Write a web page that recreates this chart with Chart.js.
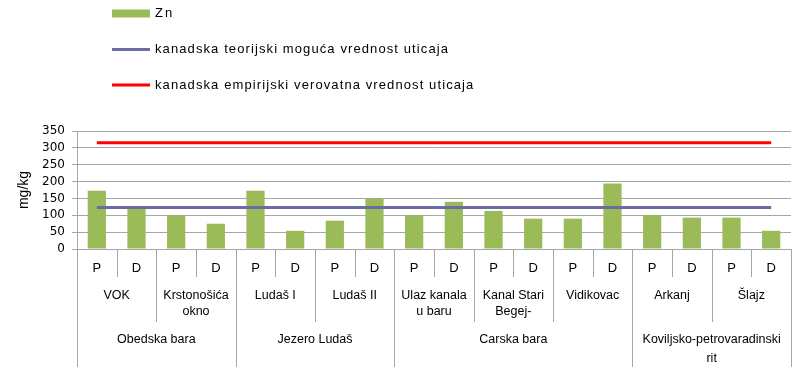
<!DOCTYPE html>
<html>
<head>
<meta charset="utf-8">
<script src="https://cdn.jsdelivr.net/npm/chart.js@4/dist/chart.umd.min.js"></script>
<style>
  html, body { margin: 0; padding: 0; background: #fff; }
  #wrap { width: 803px; height: 376px; position: relative; }
</style>
</head>
<body>
<div id="wrap"><canvas id="chart-zn" width="803" height="376"></canvas></div>
<script>
// uzorci: P i D za svaki lokalitet
const kategorije = ['P', 'D', 'P', 'D', 'P', 'D', 'P', 'D', 'P', 'D', 'P', 'D', 'P', 'D', 'P', 'D', 'P', 'D'];
const lokaliteti = [
    ['VOK'], ['Krstonošića', 'okno'], ['Ludaš I'], ['Ludaš II'],
    ['Ulaz kanala', 'u baru'], ['Kanal Stari', 'Begej-'], ['Vidikovac'],
    ['Arkanj'], ['Šlajz']
];
const grupe = [['Obedska bara'], ['Jezero Ludaš'], ['Carska bara'], ['Koviljsko-petrovaradinski', 'rit']];
const lokalitetaPoGrupi = [2, 2, 3, 2];

const zn = [173, 120, 100, 75, 173, 54, 84, 149, 100, 140, 113, 90, 90, 194, 100, 93, 93, 54];
const teorijski = [123, 123, 123, 123, 123, 123, 123, 123, 123, 123, 123, 123, 123, 123, 123, 123, 123, 123];
const empirijski = [315, 315, 315, 315, 315, 315, 315, 315, 315, 315, 315, 315, 315, 315, 315, 315, 315, 315];
const yTicks = [0, 50, 100, 150, 200, 250, 300, 350];

const FONT = '"Liberation Sans", Arial, sans-serif';
const GRID = '#a6a6a6';

// legenda, jedna stavka ispod druge
const legendaPlugin = {
    id: 'legenda',
    afterDraw(chart) {
        const ctx = chart.ctx;
        const redovi = [13.5, 49.5, 85];
        ctx.save();
        ctx.font = '13px ' + FONT;
        ctx.textBaseline = 'middle';
        ctx.fillStyle = '#000';
        chart.data.datasets.forEach((ds, i) => {
            const y = redovi[i];
            if (ds.type === 'line') {
                ctx.strokeStyle = ds.borderColor;
                ctx.lineWidth = ds.borderWidth;
                ctx.beginPath();
                ctx.moveTo(112, y);
                ctx.lineTo(150, y);
                ctx.stroke();
            } else {
                ctx.fillStyle = ds.backgroundColor;
                ctx.fillRect(112, y - 4, 38, 8);
            }
            ctx.fillStyle = '#000';
            ctx.letterSpacing = i === 0 ? '2px' : '1.1px';
            ctx.fillText(ds.label, 155, y);
        });
        ctx.restore();
    }
};

// x osa sa tri nivoa: uzorak, lokalitet, grupa
const osaPlugin = {
    id: 'visestrukaOsa',
    afterDraw(chart) {
        const ctx = chart.ctx;
        const x = chart.scales.x;
        const y0 = chart.chartArea.bottom;
        const korak = x.getPixelForValue(1) - x.getPixelForValue(0);
        const ivica = i => x.getPixelForValue(i) - korak / 2;

        ctx.save();
        ctx.strokeStyle = GRID;
        ctx.lineWidth = 1;
        const linija = (px, dno) => {
            const xx = Math.round(px) + 0.5;
            ctx.beginPath();
            ctx.moveTo(xx, y0);
            ctx.lineTo(xx, dno);
            ctx.stroke();
        };

        ctx.fillStyle = '#000';
        ctx.textAlign = 'center';
        ctx.textBaseline = 'middle';
        ctx.font = '13px ' + FONT;

        // prvi nivo
        kategorije.forEach((k, i) => {
            ctx.fillText(k, x.getPixelForValue(i), y0 + 19);
            if (i % 2 === 1) linija(ivica(i), y0 + 28);
        });

        // drugi nivo
        ctx.font = '12.5px ' + FONT;
        lokaliteti.forEach((lok, j) => {
            const cx = (ivica(2 * j) + ivica(2 * j + 2)) / 2;
            lok.forEach((t, r) => ctx.fillText(t, cx, y0 + 47 + r * 16));
            linija(ivica(2 * j), y0 + 73);
        });

        // treci nivo
        let start = 0;
        grupe.forEach((g, k) => {
            const kraj = start + lokalitetaPoGrupi[k] * 2;
            const cx = (ivica(start) + ivica(kraj)) / 2;
            g.forEach((t, r) => ctx.fillText(t, cx, y0 + 91 + r * 19));
            linija(ivica(start), y0 + 118);
            start = kraj;
        });
        linija(ivica(kategorije.length), y0 + 118);
        ctx.restore();
    }
};

new Chart(document.getElementById('chart-zn').getContext('2d'), {
    type: 'bar',
    data: {
        labels: kategorije,
        datasets: [
            {
                label: 'Zn',
                data: zn,
                backgroundColor: '#9bbb59',
                barPercentage: 0.46,
                categoryPercentage: 1,
                order: 3
            },
            {
                type: 'line',
                label: 'kanadska teorijski moguća vrednost uticaja',
                data: teorijski,
                borderColor: '#6b6ba6',
                borderWidth: 3,
                pointRadius: 0,
                order: 2
            },
            {
                type: 'line',
                label: 'kanadska empirijski verovatna vrednost uticaja',
                data: empirijski,
                borderColor: '#ff0000',
                borderWidth: 3,
                pointRadius: 0,
                order: 1
            }
        ]
    },
    options: {
        responsive: false,
        animation: false,
        layout: { padding: { top: 131, right: 12, bottom: 0, left: 0 } },
        plugins: {
            legend: { display: false },
            tooltip: { enabled: false }
        },
        scales: {
            x: {
                grid: { display: false },
                ticks: { display: false },
                border: { color: GRID },
                afterFit: s => { s.height = 127; }
            },
            y: {
                min: 0,
                max: 350,
                afterBuildTicks: s => { s.ticks = yTicks.map(v => ({ value: v })); },
                ticks: { font: { family: '"DejaVu Sans", sans-serif', size: 12 }, color: '#000', padding: 7, autoSkip: false },
                grid: { color: GRID, tickLength: 5 },
                border: { color: GRID },
                title: {
                    display: true,
                    text: 'mg/kg',
                    font: { family: FONT, size: 14 },
                    color: '#000',
                    padding: { top: 16, bottom: 0 }
                },
                afterFit: s => { s.width = 77; }
            }
        }
    },
    plugins: [legendaPlugin, osaPlugin]
});
</script>
</body>
</html>
